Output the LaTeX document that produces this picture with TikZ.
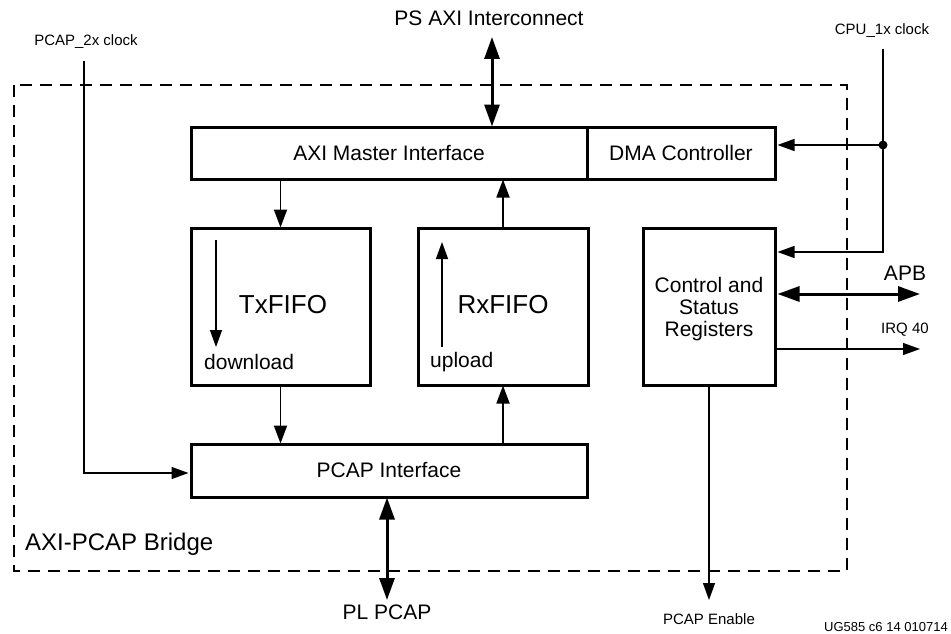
\documentclass[tikz,border=0pt]{standalone}
\usepackage{fontspec}
\setmainfont{Liberation Sans}
\usetikzlibrary{arrows.meta}
\newcommand\fsz[2]{\fontsize{#1}{#2}\selectfont}
\begin{document}
\begin{tikzpicture}[x=1pt,y=-1pt,
 box/.style={draw, line width=3pt, inner sep=0pt, align=center, font=\fsz{21}{22}},
 thinar/.style={line width=1.4pt, -{Triangle[length=17pt,width=12pt]}},
 medar/.style={line width=1.8pt, -{Triangle[length=18pt,width=13pt]}},
 boldar/.style={line width=3pt, {Triangle[length=22pt,width=15pt]}-{Triangle[length=22pt,width=15pt]}},
 lbl/.style={inner sep=0pt, font=\fsz{21}{22}},
 small/.style={inner sep=0pt, font=\fsz{15}{16}},
 fifo/.style={inner sep=0pt, font=\fsz{26}{28}},
 bridge/.style={dashed, dash pattern=on 12pt off 8pt, line width=1.3pt},
]
\useasboundingbox (0,0) rectangle (951,634);

% bridge outline
\coordinate (brA) at (14,85);
\coordinate (brB) at (847,571);
\draw[bridge] (brA) rectangle (brB);
\node[inner sep=0pt, anchor=west, font=\fsz{24}{26}] (brlbl) at (25,544) {AXI-PCAP Bridge};

% blocks
\node[box, minimum width=396pt, minimum height=52pt] (axi) at (389,153) {AXI Master Interface};
\node[box, minimum width=188pt, minimum height=52pt] (dma) at (681,153) {DMA Controller};
\node[box, minimum width=179pt, minimum height=157pt] (tx) at (280.5,306.5) {};
\node[box, minimum width=170pt, minimum height=157pt] (rx) at (503,306.5) {};
\node[box, minimum width=132pt, minimum height=157pt] (csr) at (709,306.5) {};
\node[lbl, align=center] (csrl) at (709,309) {Control and\\Status\\Registers};
\node[box, minimum width=396pt, minimum height=53pt] (pcap) at (389,470.5) {PCAP Interface};

% FIFO contents
\node[fifo] (txl) at (283,305) {TxFIFO};
\node[fifo] (rxl) at (503,305) {RxFIFO};
\node[lbl, anchor=west] (dl) at (204,362) {download};
\node[lbl, anchor=west] (ul) at (430,362) {upload};
\coordinate (txa) at (216,240);
\coordinate (txb) at (216,347);
\coordinate (rxa) at (442,347);
\coordinate (rxb) at (442,242);
\draw[thinar] (txa) -- (txb);
\draw[thinar] (rxa) -- (rxb);

% internal data paths
\draw[medar] (tx.north |- axi.south) -- ([yshift=-1pt]tx.north);
\draw[medar] (rx.north) -- ([yshift=1pt]rx.north |- axi.south);
\draw[medar] (tx.south) -- ([yshift=-1pt]tx.south |- pcap.north);
\draw[medar] (rx.south |- pcap.north) -- ([yshift=1pt]rx.south);

% PS AXI interconnect
\coordinate (psaxi) at (492,37);
\node[lbl] (pstxt) at (489,18) {PS AXI Interconnect};
\draw[boldar] (psaxi) -- ([yshift=-1pt]psaxi |- axi.north);

% PL PCAP
\coordinate (plp) at (387,600);
\node[lbl] (pltxt) at (387,612) {PL PCAP};
\draw[boldar] ([yshift=1pt]plp |- pcap.south) -- (plp);

% PCAP_2x clock
\coordinate (p2) at (84,61);
\node[small] (p2txt) at (86,42) {PCAP\_2x clock};
\coordinate (p2b) at (84,473);
\draw[thinar] (p2) -- (p2b) -- ([xshift=-1pt]p2b -| pcap.west);

% CPU_1x clock
\coordinate (c1) at (883,49);
\node[small] (c1txt) at (882,31) {CPU\_1x clock};
\coordinate (c1b) at (883,252);
\coordinate (dot) at (883,145);
\draw[thinar] (c1) -- (c1b) -- ([xshift=1pt]c1b -| csr.east);
\draw[thinar] (dot) -- ([xshift=1pt]dot -| dma.east);
\fill (dot) circle (4.5pt);

% APB and IRQ
\coordinate (apb) at (920,294);
\node[lbl] (apbtxt) at (905,273) {APB};
\draw[boldar] ([xshift=1pt]apb -| csr.east) -- (apb);
\coordinate (irq) at (920,349);
\node[small] (irqtxt) at (905,330) {IRQ 40};
\draw[thinar] (irq -| csr.east) -- (irq);

% PCAP enable
\coordinate (pen) at (709,600);
\node[small] (pentxt) at (709,619) {PCAP Enable};
\draw[thinar] (csr.south) -- (pen);

% figure id
\node[inner sep=0pt, anchor=east, font=\fsz{13}{14}] (figid) at (948,627) {UG585 c6 14 010714};
\end{tikzpicture}
\end{document}
